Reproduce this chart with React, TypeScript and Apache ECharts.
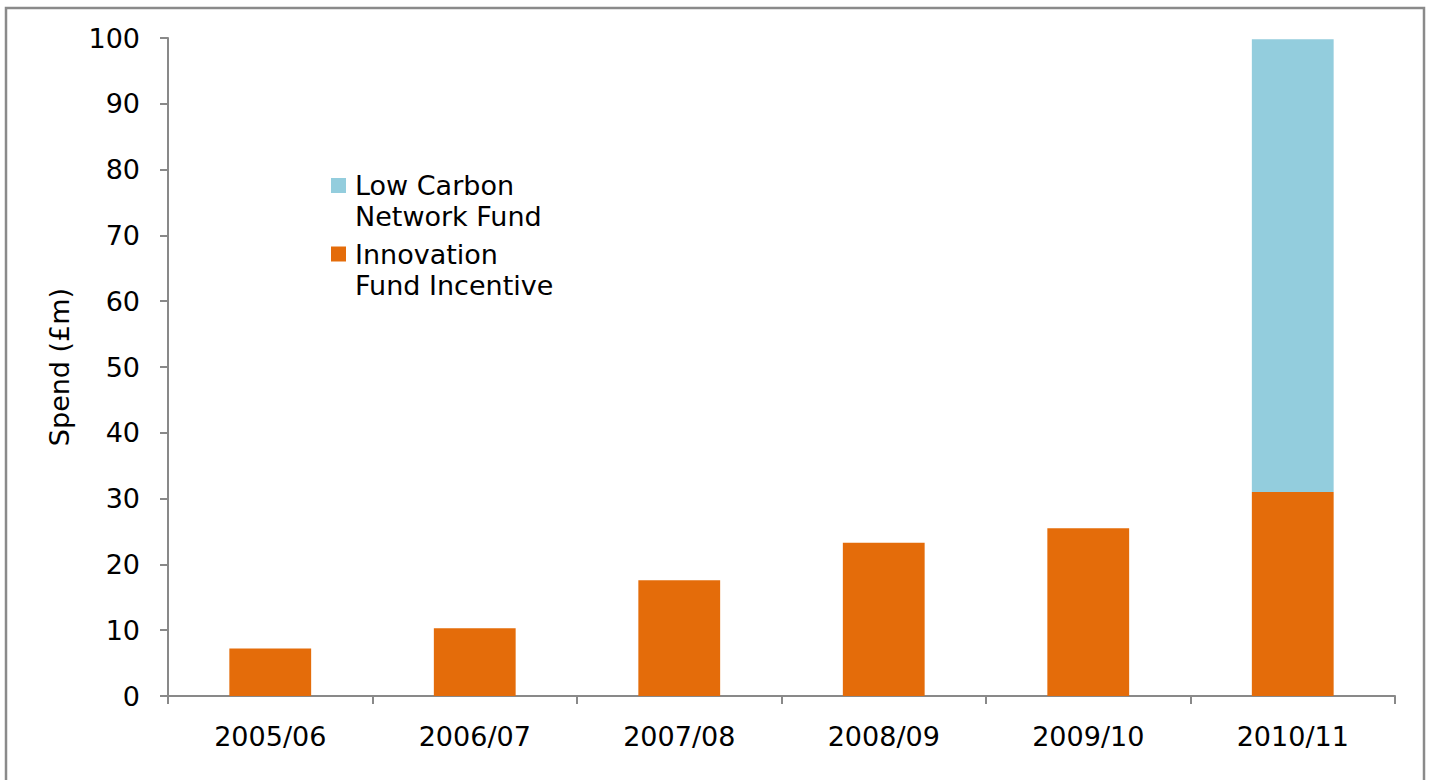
import React, { useEffect, useRef } from "react";
import * as echarts from "echarts";

const categories = ["2005/06", "2006/07", "2007/08", "2008/09", "2009/10", "2010/11"];
const innovationFundIncentive = [7.2, 10.3, 17.6, 23.3, 25.5, 31.0];
const lowCarbonNetworkFund = [0, 0, 0, 0, 0, 68.8];
const yTicks = { min: 0, max: 100, interval: 10 };

const FONT = "DejaVu Sans";
const AXIS_COLOR = "#898989";
const FS = 27;

export default function App() {
  const ref = useRef<HTMLDivElement>(null);
  useEffect(() => {
    if (!ref.current) return;
    const chart = echarts.init(ref.current, null, { renderer: "svg" });
    chart.setOption({
      animation: false,
      backgroundColor: "#ffffff",
      textStyle: { fontFamily: FONT },
      graphic: [
        {
          type: "rect",
          shape: { x: 6, y: 8, width: 1418, height: 790 },
          style: { fill: "none", stroke: "#8a8a8a", lineWidth: 2.5 },
          silent: true,
        },
      ],
      grid: { left: 168, top: 38, right: 35, bottom: 84, containLabel: false },
      legend: {
        show: true,
        orient: "vertical",
        left: 331,
        top: 139,
        padding: 0,
        itemGap: -24.5,
        itemWidth: 15,
        itemHeight: 15,
        icon: "rect",
        selectedMode: false,
        data: ["Low Carbon Network Fund", "Innovation Fund Incentive"],
        formatter: (name: string) =>
          name === "Low Carbon Network Fund" ? "\nLow Carbon\nNetwork Fund" : "\nInnovation\nFund Incentive",
        textStyle: {
          fontFamily: FONT,
          fontSize: FS,
          color: "#000",
          lineHeight: 31,
          padding: [0, 0, 0, 4],
        },
      },
      xAxis: {
        type: "category",
        data: categories,
        boundaryGap: true,
        axisLine: { show: true, lineStyle: { color: AXIS_COLOR, width: 2 } },
        axisTick: { show: true, length: 8, alignWithLabel: false, lineStyle: { color: AXIS_COLOR, width: 2 } },
        axisLabel: { fontFamily: FONT, fontSize: FS, color: "#000", margin: 27 },
        splitLine: { show: false },
      },
      yAxis: {
        type: "value",
        min: yTicks.min,
        max: yTicks.max,
        interval: yTicks.interval,
        name: "Spend (£m)",
        nameLocation: "middle",
        nameGap: 95,
        nameTextStyle: { fontFamily: FONT, fontSize: FS, color: "#000" },
        axisLine: { show: true, lineStyle: { color: AXIS_COLOR, width: 2 } },
        axisTick: { show: true, length: 8, lineStyle: { color: AXIS_COLOR, width: 2 } },
        axisLabel: { fontFamily: FONT, fontSize: FS, color: "#000", margin: 28 },
        splitLine: { show: false },
      },
      series: [
        {
          name: "Innovation Fund Incentive",
          type: "bar",
          stack: "spend",
          barWidth: "40%",
          itemStyle: { color: "#E46C0A" },
          data: innovationFundIncentive,
        },
        {
          name: "Low Carbon Network Fund",
          type: "bar",
          stack: "spend",
          barWidth: "40%",
          itemStyle: { color: "#93CDDD" },
          data: lowCarbonNetworkFund,
        },
      ],
    });
    return () => chart.dispose();
  }, []);
  return (
    <div
      ref={ref}
      style={{ position: "absolute", left: 0, top: 0, width: 1430, height: 780 }}
    />
  );
}
